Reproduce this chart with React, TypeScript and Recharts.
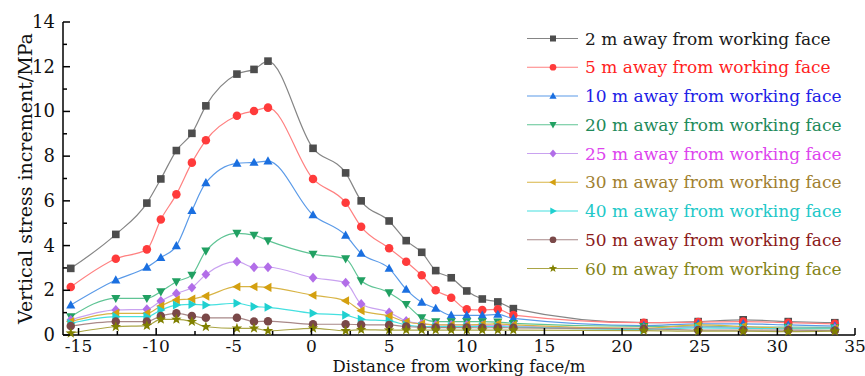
import React from "react";
import { LineChart, Line, XAxis, YAxis, Legend } from "recharts";

// distance from the working face (m)
const distance = [-15.5, -12.6, -10.6, -9.7, -8.7, -7.7, -6.8, -4.8, -3.7, -2.8, 0.1, 2.2, 3.2, 5.0, 6.1, 7.1, 8.0, 9.0, 10.0, 11.0, 12.0, 13.0, 21.4, 24.9, 27.8, 30.7, 33.7];

// vertical stress increment (MPa) per monitoring line
const away2 = [2.98, 4.5, 5.9, 6.98, 8.25, 9.02, 10.25, 11.67, 11.88, 12.25, 8.35, 7.25, 6.0, 5.1, 4.22, 3.7, 2.88, 2.56, 1.97, 1.61, 1.48, 1.18, 0.55, 0.6, 0.68, 0.6, 0.55];
const away5 = [2.15, 3.41, 3.83, 5.17, 6.29, 7.71, 8.71, 9.81, 10.02, 10.17, 6.98, 5.92, 4.84, 3.88, 3.28, 2.67, 2.0, 1.67, 1.15, 1.12, 1.15, 0.89, 0.55, 0.58, 0.6, 0.55, 0.5];
const away10 = [1.34, 2.46, 3.03, 3.46, 3.99, 5.56, 6.81, 7.68, 7.72, 7.78, 5.37, 4.46, 3.65, 2.98, 2.04, 1.46, 1.19, 0.88, 0.88, 0.88, 0.92, 0.74, 0.42, 0.5, 0.5, 0.45, 0.4];
const away20 = [0.82, 1.64, 1.64, 1.94, 2.38, 2.68, 3.76, 4.55, 4.47, 4.22, 3.62, 3.41, 2.43, 1.89, 1.37, 0.77, 0.6, 0.6, 0.6, 0.6, 0.58, 0.52, 0.38, 0.4, 0.35, 0.35, 0.33];
const away25 = [0.67, 1.12, 1.15, 1.52, 1.86, 2.12, 2.71, 3.28, 3.03, 3.03, 2.56, 2.34, 1.39, 1.01, 0.63, 0.5, 0.45, 0.45, 0.45, 0.43, 0.43, 0.4, 0.3, 0.35, 0.32, 0.3, 0.3];
const away30 = [0.6, 0.97, 0.97, 1.3, 1.57, 1.61, 1.74, 2.16, 2.16, 2.13, 1.78, 1.53, 1.09, 0.85, 0.58, 0.5, 0.45, 0.45, 0.45, 0.48, 0.5, 0.45, 0.3, 0.45, 0.38, 0.3, 0.28];
const away40 = [0.52, 0.82, 0.82, 1.12, 1.34, 1.37, 1.34, 1.42, 1.27, 1.24, 0.97, 0.89, 0.7, 0.63, 0.45, 0.38, 0.38, 0.38, 0.38, 0.38, 0.38, 0.36, 0.25, 0.32, 0.3, 0.28, 0.28];
const away50 = [0.4, 0.6, 0.6, 0.85, 0.97, 0.85, 0.77, 0.77, 0.6, 0.62, 0.48, 0.48, 0.46, 0.45, 0.38, 0.35, 0.33, 0.33, 0.33, 0.32, 0.33, 0.32, 0.28, 0.22, 0.22, 0.22, 0.2];
const away60 = [0.08, 0.37, 0.42, 0.7, 0.7, 0.6, 0.37, 0.3, 0.3, 0.19, 0.3, 0.19, 0.24, 0.22, 0.22, 0.22, 0.22, 0.22, 0.22, 0.22, 0.22, 0.22, 0.2, 0.17, 0.17, 0.15, 0.17];

const xMajor = [-15, -10, -5, 0, 5, 10, 15, 20, 25, 30, 35];
const xMinor = [-12.5, -7.5, -2.5, 2.5, 7.5, 12.5, 17.5, 22.5, 27.5, 32.5];
const yMajor = [0, 2, 4, 6, 8, 10, 12, 14];
const yMinor = [1, 3, 5, 7, 9, 11, 13];

const series = [
  { key: "a2", name: "2 m away from working face", values: away2, shape: "square", mark: "#4d4d4d", line: "#858585", text: "#1a1a1a" },
  { key: "a5", name: "5 m away from working face", values: away5, shape: "circle", mark: "#ff3b3b", line: "#ff8080", text: "#ff1f1f" },
  { key: "a10", name: "10 m away from working face", values: away10, shape: "up", mark: "#1a6fe0", line: "#5a9ae8", text: "#2020e6" },
  { key: "a20", name: "20 m away from working face", values: away20, shape: "down", mark: "#21a062", line: "#5fc495", text: "#1e8a5a" },
  { key: "a25", name: "25 m away from working face", values: away25, shape: "diamond", mark: "#b26ee8", line: "#c9a2f0", text: "#dd44ee" },
  { key: "a30", name: "30 m away from working face", values: away30, shape: "left", mark: "#d4a010", line: "#d8b445", text: "#a08030" },
  { key: "a40", name: "40 m away from working face", values: away40, shape: "right", mark: "#1fd0d0", line: "#45e0e0", text: "#22c8c8" },
  { key: "a50", name: "50 m away from working face", values: away50, shape: "circle", mark: "#7a4848", line: "#a88888", text: "#8b1a1a" },
  { key: "a60", name: "60 m away from working face", values: away60, shape: "star", mark: "#808000", line: "#aaa545", text: "#848418" },
];

const rows = distance.map((x, i) => {
  const r: Record<string, number> = { x };
  series.forEach((s) => (r[s.key] = s.values[i]));
  return r;
});

const FONT = "'DejaVu Serif', serif";

function Marker({ shape, cx, cy, fill, s }: { shape: string; cx: number; cy: number; fill: string; s: number }) {
  switch (shape) {
    case "square":
      return <rect x={cx - s} y={cy - s} width={2 * s} height={2 * s} fill={fill} />;
    case "circle":
      return <circle cx={cx} cy={cy} r={s * 1.12} fill={fill} />;
    case "up":
      return <polygon points={`${cx},${cy - s * 1.25} ${cx + s * 1.2},${cy + s * 0.9} ${cx - s * 1.2},${cy + s * 0.9}`} fill={fill} />;
    case "down":
      return <polygon points={`${cx},${cy + s * 1.25} ${cx + s * 1.2},${cy - s * 0.9} ${cx - s * 1.2},${cy - s * 0.9}`} fill={fill} />;
    case "diamond":
      return <polygon points={`${cx},${cy - s * 1.3} ${cx + s * 1.15},${cy} ${cx},${cy + s * 1.3} ${cx - s * 1.15},${cy}`} fill={fill} />;
    case "left":
      return <polygon points={`${cx - s * 1.25},${cy} ${cx + s * 0.9},${cy - s * 1.2} ${cx + s * 0.9},${cy + s * 1.2}`} fill={fill} />;
    case "right":
      return <polygon points={`${cx + s * 1.25},${cy} ${cx - s * 0.9},${cy - s * 1.2} ${cx - s * 0.9},${cy + s * 1.2}`} fill={fill} />;
    default: {
      const pts: string[] = [];
      for (let k = 0; k < 10; k++) {
        const r = k % 2 === 0 ? s * 1.45 : s * 0.6;
        const a = -Math.PI / 2 + (k * Math.PI) / 5;
        pts.push(`${cx + r * Math.cos(a)},${cy + r * Math.sin(a)}`);
      }
      return <polygon points={pts.join(" ")} fill={fill} />;
    }
  }
}

const XTick = (p: any) => {
  const v = p.payload.value;
  const major = xMajor.includes(v);
  return (
    <g>
      <line x1={p.x} x2={p.x} y1={p.y} y2={p.y - (major ? 7 : 4)} stroke="#000" strokeWidth={1.5} />
      {major && (
        <text x={p.x} y={p.y + 17} textAnchor="middle" fontFamily={FONT} fontSize={17} fill="#111">
          {String(v)}
        </text>
      )}
    </g>
  );
};

const YTick = (p: any) => {
  const v = p.payload.value;
  const major = yMajor.includes(v);
  return (
    <g>
      <line x1={p.x} x2={p.x + (major ? 7 : 4)} y1={p.y} y2={p.y} stroke="#000" strokeWidth={1.5} />
      {major && (
        <text x={p.x - 8} y={p.y + 6} textAnchor="end" fontFamily={FONT} fontSize={18} fill="#111">
          {String(v)}
        </text>
      )}
    </g>
  );
};

const renderLegend = () => (
  <svg width={345} height={270}>
    {series.map((s, i) => {
      const cy = 18.5 + i * 28.75;
      return (
        <g key={s.key}>
          <line x1={7} x2={58} y1={cy} y2={cy} stroke={s.line} strokeWidth={1.2} />
          <Marker shape={s.shape} cx={33} cy={cy} fill={s.mark} s={3} />
          <text x={65} y={cy + 6} fontFamily={FONT} fontSize={17} fill={s.text}>
            {s.name}
          </text>
        </g>
      );
    })}
  </svg>
);

export default function App() {
  return (
    <div style={{ position: "absolute", left: 0, top: 0, background: "#fff" }}>
      <LineChart width={865} height={376} data={rows} margin={{ top: 22, right: 10, bottom: 0, left: 0 }}>
        <XAxis
          dataKey="x"
          type="number"
          domain={[-16, 35]}
          ticks={[...xMajor, ...xMinor]}
          interval={0}
          tickSize={0}
          tickMargin={0}
          tickLine={false}
          tick={XTick}
          height={41}
          axisLine={{ stroke: "#000", strokeWidth: 1.5 }}
          label={({ viewBox }: any) => (
            <text x={viewBox.x + viewBox.width / 2} y={viewBox.y + 37} textAnchor="middle" fontFamily={FONT} fontSize={16.5} fill="#111">
              Distance from working face/m
            </text>
          )}
        />
        <YAxis
          type="number"
          domain={[0, 14]}
          ticks={[...yMajor, ...yMinor]}
          interval={0}
          tickSize={0}
          tickMargin={0}
          tickLine={false}
          tick={YTick}
          width={63}
          axisLine={{ stroke: "#000", strokeWidth: 1.5 }}
          label={({ viewBox }: any) => {
            const cx = viewBox.x + 25;
            const cy = viewBox.y + viewBox.height / 2;
            return (
              <text x={cx} y={cy} transform={`rotate(-90 ${cx} ${cy})`} textAnchor="middle" dominantBaseline="central" fontFamily={FONT} fontSize={19} fill="#111">
                Vertical stress increment/MPa
              </text>
            );
          }}
        />
        <Legend
          layout="horizontal"
          align="center"
          verticalAlign="middle"
          content={renderLegend}
          wrapperStyle={{ left: 520, top: 20, width: 345, height: 270 }}
        />
        {series.map((s) => (
          <Line
            key={s.key}
            dataKey={s.key}
            name={s.name}
            type="monotone"
            stroke={s.line}
            strokeWidth={1.2}
            isAnimationActive={false}
            activeDot={false}
            dot={(p: any) => <Marker key={`${s.key}-${p.index}`} shape={s.shape} cx={p.cx} cy={p.cy} fill={s.mark} s={3.8} />}
          />
        ))}
      </LineChart>
    </div>
  );
}
